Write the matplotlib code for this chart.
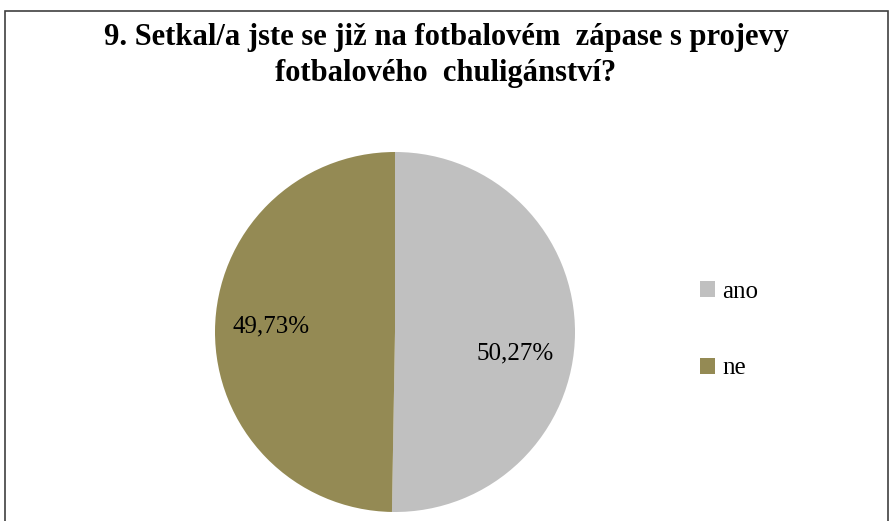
import matplotlib.pyplot as plt
from matplotlib.patches import Rectangle

# data
labels = ['ano', 'ne']
shares = [50.27, 49.73]
colors = ['#C0C0C0', '#948A54']
title = '9. Setkal/a jste se již na fotbalovém  zápase s projevy\nfotbalového  chuligánství?'

plt.rcParams['font.family'] = ['Liberation Serif', 'DejaVu Serif']

fig = plt.figure(figsize=(8.92, 5.21), dpi=100)

# chart frame (cut off at the bottom like the screenshot)
fig.patches.append(Rectangle((5 / 892, -0.05), 883 / 892, 1.05 - 11 / 521,
                             transform=fig.transFigure, fill=False,
                             edgecolor='#404040', linewidth=1.2))

fig.text(0.5, 1 - 23 / 521, title, ha='center', va='top', fontsize=22,
         fontweight='bold', linespacing=1.3)

ax = fig.add_axes([215 / 892, 9 / 521, 360 / 892, 360 / 521])
wedges, texts, autotexts = ax.pie(
    shares, colors=colors, startangle=90, counterclock=False,
    autopct=lambda p: f'{p:.2f}%'.replace('.', ','), pctdistance=0.7,
    wedgeprops=dict(linewidth=0), textprops=dict(fontsize=18))
autotexts[0].set_position((0.67, -0.12))
autotexts[1].set_position((-0.69, 0.03))
ax.set_xlim(-1, 1)
ax.set_ylim(-1, 1)
ax.set_aspect('equal')

fig.legend(wedges, labels, loc='center left',
           bbox_to_anchor=(677 / 892, 1 - 330 / 521), frameon=False,
           fontsize=18, handlelength=0.6, handleheight=0.6,
           handletextpad=0.3, labelspacing=2.2)

fig.savefig('out.png', dpi=100)
